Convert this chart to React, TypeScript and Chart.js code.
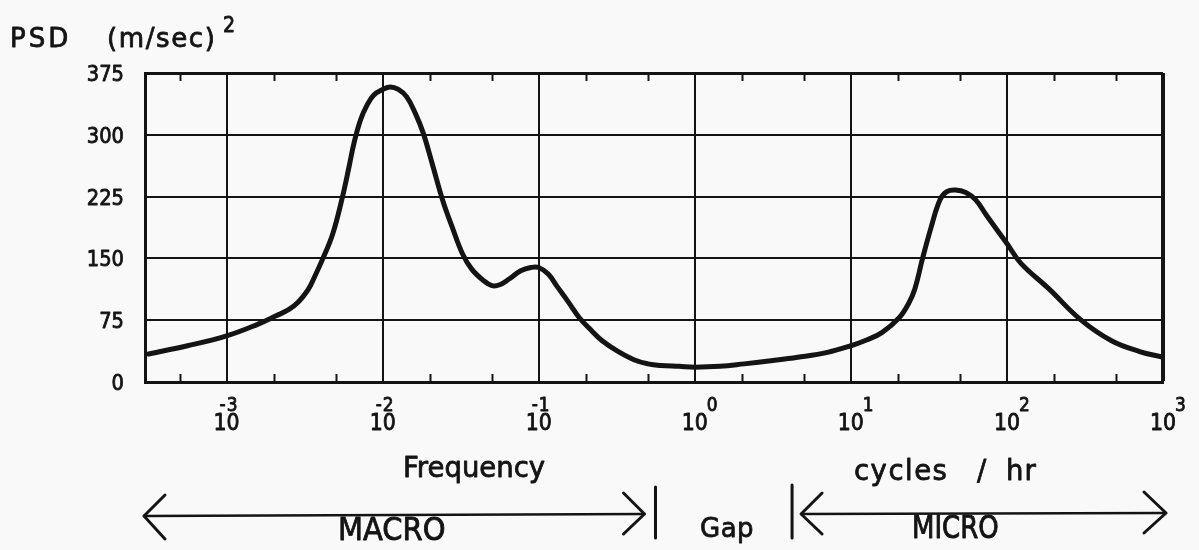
import React, { useEffect, useRef } from "react";
import { Chart, registerables } from "chart.js";

Chart.register(...registerables);

// Frequency (cycles / hr) and power spectral density ((m/sec)^2)
const frequency = [
  0.000316, 0.000562, 0.001, 0.00158, 0.00206, 0.00251, 0.00288, 0.00333, 0.00367, 0.00414,
  0.00479, 0.00553, 0.0061, 0.00655, 0.00721, 0.00794, 0.00875, 0.01, 0.0112, 0.0126,
  0.01426, 0.0162, 0.0182, 0.0209, 0.0242, 0.0279, 0.0324, 0.0372, 0.0437, 0.0501,
  0.0562, 0.0646, 0.0767, 0.0891, 0.1, 0.115, 0.13, 0.155, 0.182, 0.219,
  0.255, 0.316, 0.407, 0.501, 0.605, 0.794, 1, 1.45, 2.07, 3.16,
  4.57, 7.08, 10, 12.6, 15.8, 20.4, 23.4, 25.7, 28.8, 32.7,
  37.2, 41.2, 46.8, 54.5, 63.1, 74.1, 100, 123, 186, 295,
  468, 708, 1000,
];
const psd = [
  34, 44, 56, 70, 80, 88, 97, 112, 128, 150,
  180, 225, 262, 290, 318, 336, 348, 355, 358, 355,
  346, 326, 302, 263, 221, 188, 156, 137, 124, 117,
  118, 125, 135, 139, 139, 131, 117, 97, 78, 62,
  50, 38, 27, 22, 20, 19, 18, 19, 22, 26,
  30, 36, 44, 51, 60, 78, 95, 113, 150, 188,
  221, 231, 233, 230, 221, 202, 168, 144, 113, 76,
  50, 37, 30,
];

// Axis definitions
const xMin = 0.000316;
const xMax = 1000;
const decadeExponents = [-3, -2, -1, 0, 1, 2, 3];
const decadeValues = [0.001, 0.01, 0.1, 1, 10, 100, 1000];
const minorTickValues = [0.0005, 0.002, 0.005, 0.02, 0.05, 0.2, 0.5, 2, 5, 20, 50, 200, 500];
const yTickValues = [0, 75, 150, 225, 300, 375];
const yTickLabels = ["0", "75", "150", "225", "300", "375"];

// Gap region limits (cycles / hr)
const gapStart = 0.56;
const gapEnd = 4.2;

const FONT = '"DejaVu Sans", "Liberation Sans", sans-serif';
const INK = "#141414";

function drawText(
  ctx: CanvasRenderingContext2D,
  text: string,
  x: number,
  y: number,
  size: number,
  align: CanvasTextAlign,
  sy: number,
  spacing = 0
) {
  ctx.save();
  ctx.translate(x, y);
  ctx.scale(1, sy);
  ctx.font = `${size}px ${FONT}`;
  (ctx as any).letterSpacing = `${spacing}px`;
  ctx.textAlign = align;
  ctx.textBaseline = "alphabetic";
  ctx.fillStyle = INK;
  ctx.strokeStyle = INK;
  ctx.lineWidth = 0.8;
  ctx.lineJoin = "round";
  ctx.fillText(text, 0, 0);
  ctx.strokeText(text, 0, 0);
  ctx.restore();
}

const annotationPlugin = {
  id: "psdAnnotations",
  afterDraw(chart: any) {
    const ctx: CanvasRenderingContext2D = chart.ctx;
    const xs = chart.scales.x;
    const ys = chart.scales.y;
    const area = chart.chartArea;

    // minor tick marks, inside, top and bottom
    ctx.save();
    ctx.strokeStyle = INK;
    ctx.lineWidth = 2;
    ctx.beginPath();
    minorTickValues.forEach((v) => {
      const px = Math.round(xs.getPixelForValue(v)) + 0.5;
      ctx.moveTo(px, area.bottom);
      ctx.lineTo(px, area.bottom - 8);
      ctx.moveTo(px, area.top);
      ctx.lineTo(px, area.top + 8);
    });
    ctx.stroke();
    ctx.restore();

    // y tick labels
    yTickValues.forEach((v, i) => {
      const py = ys.getPixelForValue(v);
      drawText(ctx, yTickLabels[i], area.left - 21, py + 8, 19.5, "right", 1.05);
    });

    // x tick labels: 10 with raised exponent
    decadeValues.forEach((v, i) => {
      const px = xs.getPixelForValue(v);
      const e = decadeExponents[i];
      drawText(ctx, "10", px, area.bottom + 48, 20.5, "center", 1.15);
      if (e < 0) {
        drawText(ctx, "-" + Math.abs(e), px - 7, area.bottom + 29, 17, "left", 1.15, 1);
      } else {
        drawText(ctx, String(e), px + 12, area.bottom + 29, 17, "left", 1.15);
      }
    });

    // y axis title
    drawText(ctx, "PSD", 10, 47, 26, "left", 1.0, 3);
    drawText(ctx, "(m/sec)", 107, 47, 26, "left", 1.0, 1.6);
    drawText(ctx, "2", 223, 32, 19, "left", 1.1);

    // x axis titles
    drawText(ctx, "Frequency", 403, 477, 27.5, "left", 1.0);
    drawText(ctx, "cycles", 854, 480, 27.5, "left", 1.0, 1.5);
    drawText(ctx, "/", 977, 480, 27.5, "left", 1.0);
    drawText(ctx, "hr", 1006, 480, 27.5, "left", 1.0, 1);

    // MACRO / Gap / MICRO arrows
    const gx0 = xs.getPixelForValue(gapStart);
    const gx1 = xs.getPixelForValue(gapEnd);
    const leftTip = area.left - 1;
    const rightTip = area.right + 3;
    const macroTip = gx0 - 11;
    const microTip = gx1 + 9;
    ctx.save();
    ctx.strokeStyle = INK;
    ctx.lineCap = "round";
    ctx.lineJoin = "round";
    ctx.lineWidth = 2.5;
    ctx.beginPath();
    ctx.moveTo(leftTip, 516);
    ctx.lineTo(macroTip, 514);
    ctx.moveTo(microTip, 514);
    ctx.lineTo(rightTip, 513);
    ctx.stroke();
    ctx.lineWidth = 3;
    ctx.beginPath();
    ctx.moveTo(leftTip + 21, 495);
    ctx.lineTo(leftTip, 516);
    ctx.lineTo(leftTip + 21, 539);
    ctx.moveTo(macroTip - 21, 493);
    ctx.lineTo(macroTip, 514);
    ctx.lineTo(macroTip - 21, 534);
    ctx.moveTo(microTip + 21, 493);
    ctx.lineTo(microTip, 514);
    ctx.lineTo(microTip + 21, 534);
    ctx.moveTo(rightTip - 22, 492);
    ctx.lineTo(rightTip, 513);
    ctx.lineTo(rightTip - 22, 533);
    ctx.moveTo(gx0, 487);
    ctx.lineTo(gx0, 538);
    ctx.moveTo(gx1, 485);
    ctx.lineTo(gx1, 538);
    ctx.stroke();
    ctx.restore();

    drawText(ctx, "MACRO", 338, 540, 29, "left", 1.09, 0);
    drawText(ctx, "Gap", 700, 537, 26, "left", 1.0, 0.5);
    drawText(ctx, "MICRO", 912, 538, 26, "left", 1.2, 0);
  },
};

export default function App() {
  const canvasRef = useRef<HTMLCanvasElement | null>(null);

  useEffect(() => {
    if (!canvasRef.current) return;
    const chart = new Chart(canvasRef.current, {
      type: "line",
      data: {
        datasets: [
          {
            label: "PSD",
            data: frequency.map((f, i) => ({ x: f, y: psd[i] })),
            borderColor: INK,
            borderWidth: 5,
            pointRadius: 0,
            tension: 0.4,
            borderJoinStyle: "round",
            borderCapStyle: "round",
            fill: false,
          },
        ],
      },
      options: {
        animation: false,
        responsive: false,
        devicePixelRatio: 1,
        layout: { padding: { left: 145, right: 36, top: 73, bottom: 168 } },
        plugins: {
          legend: { display: false },
          tooltip: { enabled: false },
          title: { display: false },
        },
        scales: {
          x: {
            type: "logarithmic",
            min: xMin,
            max: xMax,
            afterBuildTicks: (scale: any) => {
              scale.ticks = decadeValues.map((v) => ({ value: v }));
            },
            ticks: { display: false },
            grid: {
              drawTicks: false,
              color: INK,
              lineWidth: (c: any) => (c.tick && c.tick.value === xMax ? 4 : 2),
            },
            border: { display: true, color: INK, width: 3 },
          },
          y: {
            type: "linear",
            min: 0,
            max: 375,
            afterBuildTicks: (scale: any) => {
              scale.ticks = yTickValues.map((v) => ({ value: v }));
            },
            ticks: { display: false },
            grid: {
              drawTicks: false,
              color: INK,
              lineWidth: (c: any) => (c.tick && c.tick.value === 375 ? 3 : 2),
            },
            border: { display: true, color: INK, width: 3 },
          },
        },
      },
      plugins: [annotationPlugin],
    });
    return () => chart.destroy();
  }, []);

  return (
    <div
      style={{
        position: "fixed",
        left: 0,
        top: 0,
        width: 1199,
        height: 550,
        background: "#f9f9f9",
      }}
    >
      <canvas ref={canvasRef} width={1199} height={550} style={{ display: "block" }} />
    </div>
  );
}
